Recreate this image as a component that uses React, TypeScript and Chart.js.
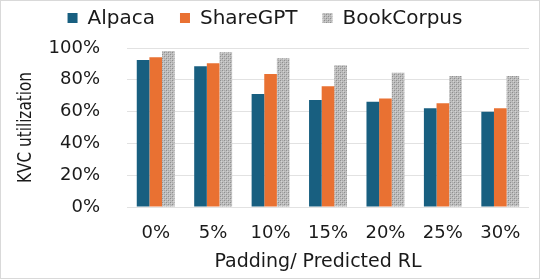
import React, { useEffect, useRef } from 'react';
import { Chart, registerables } from 'chart.js';

Chart.register(...registerables);

const categories = ['0%', '5%', '10%', '15%', '20%', '25%', '30%'];
const alpaca = [92.5, 88.5, 71.1, 67.3, 66.2, 62.1, 59.9];
const shareGPT = [94.2, 90.4, 83.6, 75.9, 68.3, 65.2, 62.1];
const bookCorpus = [98.1, 97.3, 93.5, 89.1, 84.5, 82.4, 82.4];
const seriesNames = ['Alpaca', 'ShareGPT', 'BookCorpus'];
const xTitle = 'Padding/ Predicted RL';
const yTitle = 'KVC utilization';

const FONT = "'DejaVu Sans', sans-serif";
const TEXT = '#1a1a1a';

function makePattern(ctx: CanvasRenderingContext2D) {
  const c = document.createElement('canvas');
  c.width = 4;
  c.height = 4;
  const p = c.getContext('2d')!;
  p.fillStyle = '#bdbdbd';
  p.fillRect(0, 0, 4, 4);
  p.fillStyle = '#8e8e8e';
  p.fillRect(0, 0, 1, 1);
  p.fillRect(2, 2, 1, 1);
  p.fillStyle = '#a8a8a8';
  p.fillRect(2, 0, 1, 1);
  p.fillRect(0, 2, 1, 1);
  p.fillStyle = '#d2d2d2';
  p.fillRect(1, 1, 1, 1);
  p.fillRect(3, 3, 1, 1);
  return ctx.createPattern(c, 'repeat')!;
}

const frameAndLegend = {
  id: 'frameAndLegend',
  afterDraw(chart: any) {
    const ctx = chart.ctx as CanvasRenderingContext2D;
    const area = chart.chartArea;
    ctx.save();
    ctx.strokeStyle = '#d9d9d9';
    ctx.lineWidth = 1;
    ctx.strokeRect(0.5, 0.5, chart.width - 1, chart.height - 1);

    // legend
    ctx.font = `20px ${FONT}`;
    ctx.textBaseline = 'middle';
    ctx.textAlign = 'left';
    const box = 10, gap = 10, spacing = 25;
    const items = chart.data.datasets.map((d: any) => ({
      label: d.label,
      color: d.backgroundColor,
      w: ctx.measureText(d.label).width,
    }));
    let total = 0;
    items.forEach((it: any, i: number) => {
      total += box + gap + it.w + (i < items.length - 1 ? spacing : 0);
    });
    let x = 265 - total / 2;
    const cy = 18;
    items.forEach((it: any) => {
      ctx.fillStyle = it.color;
      ctx.fillRect(x, cy - box / 2, box, box);
      ctx.fillStyle = TEXT;
      ctx.fillText(it.label, x + box + gap, cy + 1);
      x += box + gap + it.w + spacing;
    });

    // x title
    ctx.font = `19px ${FONT}`;
    ctx.textAlign = 'center';
    ctx.fillStyle = TEXT;
    ctx.fillText(xTitle, 318, 262);

    // y title (condensed)
    ctx.font = `20px ${FONT}`;
    const w = ctx.measureText(yTitle).width;
    const sx = 111 / w;
    ctx.translate(26, (area.top + area.bottom) / 2);
    ctx.rotate(-Math.PI / 2);
    ctx.scale(sx, 1);
    ctx.fillText(yTitle, 0, 0);
    ctx.restore();
  },
};

export default function App() {
  const ref = useRef<HTMLCanvasElement>(null);
  useEffect(() => {
    const canvas = ref.current!;
    const ctx = canvas.getContext('2d')!;
    const pattern = makePattern(ctx);
    const chart = new Chart(canvas, {
      type: 'bar',
      data: {
        labels: categories,
        datasets: [
          { label: seriesNames[0], data: alpaca, backgroundColor: '#185f80' },
          { label: seriesNames[1], data: shareGPT, backgroundColor: '#e97132' },
          { label: seriesNames[2], data: bookCorpus, backgroundColor: pattern as any },
        ],
      },
      options: {
        responsive: false,
        animation: false,
        devicePixelRatio: 1,
        layout: { padding: { top: 48, right: 11, left: 0, bottom: 0 } },
        datasets: { bar: { barPercentage: 1, categoryPercentage: 0.66 } } as any,
        plugins: { legend: { display: false }, tooltip: { enabled: false } },
        scales: {
          x: {
            grid: { display: false },
            border: { display: false },
            ticks: { font: { family: FONT, size: 18 }, color: TEXT, padding: 8 },
            afterFit: (s: any) => { s.height = 72; },
          },
          y: {
            min: 0,
            max: 100,
            grid: { color: '#e2e2e2', drawTicks: false },
            border: { display: false },
            ticks: {
              stepSize: 20,
              font: { family: FONT, size: 18 },
              color: TEXT,
              padding: 27,
              callback: (v: any) => `${v}%`,
            },
            afterFit: (s: any) => { s.width = 127; },
          },
        },
      },
      plugins: [frameAndLegend],
    });
    return () => chart.destroy();
  }, []);
  return (
    <div style={{ position: 'fixed', left: 0, top: 0, width: 540, height: 279, background: '#fff' }}>
      <canvas ref={ref} width={540} height={279} style={{ display: 'block' }} />
    </div>
  );
}
